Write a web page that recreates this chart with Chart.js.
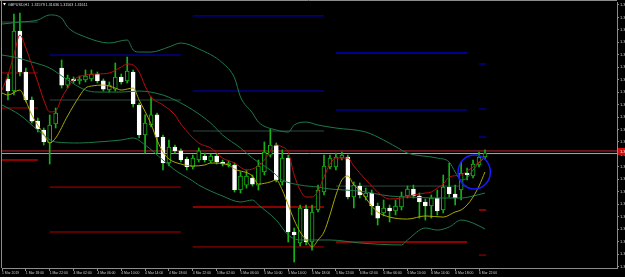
<!DOCTYPE html>
<html>
<head>
<meta charset="utf-8">
<script src="https://cdn.jsdelivr.net/npm/chart.js"></script>
<style>
  html, body { margin: 0; padding: 0; background: #000; overflow: hidden; }
  #wrap { width: 625px; height: 277px; }
</style>
</head>
<body>
<div id="wrap"><canvas id="chart" width="625" height="277"></canvas></div>
<script>
// GBPUSD H1 candles, bar 0 = first visible candle
const symbol = 'GBPUSD,H1';
const opens = [
  1.32206,1.32109,1.32591,1.32262,1.32037,1.31868,1.31796,1.31692,1.31844,1.32294,
  1.32157,1.32206,1.32190,1.32198,1.32206,1.32246,1.32190,1.32117,1.32125,1.32222,
  1.32190,1.32262,1.31997,1.31756,1.31836,1.31917,1.31740,1.31531,1.31660,1.31628,
  1.31563,1.31499,1.31555,1.31587,1.31547,1.31587,1.31539,1.31515,1.31515,1.31314,
  1.31354,1.31411,1.31354,1.31459,1.31595,1.31676,1.31379,1.31571,1.30977,1.30889,
  1.31162,1.30897,1.31154,1.31298,1.31499,1.31499,1.31571,1.31579,1.31258,1.31346,
  1.31258,1.31290,1.31186,1.31130,1.31170,1.31146,1.31178,1.31266,1.31322,1.31266,
  1.31218,1.31186,1.31250,1.31154,1.31338,1.31282,1.31314,1.31451,1.31427,1.31515,
  1.31579];
const highs = [
  1.32246,1.32728,1.32736,1.32294,1.32061,1.31892,1.31812,1.31917,1.31973,1.32358,
  1.32238,1.32222,1.32230,1.32278,1.32278,1.32262,1.32206,1.32182,1.32334,1.32246,
  1.32382,1.32278,1.32013,1.31917,1.32061,1.31933,1.31756,1.31716,1.31676,1.31644,
  1.31579,1.31595,1.31652,1.31611,1.31603,1.31603,1.31555,1.31547,1.31531,1.31459,
  1.31475,1.31435,1.31555,1.31700,1.31804,1.31692,1.31636,1.31595,1.31009,1.31194,
  1.31194,1.31194,1.31354,1.31595,1.31595,1.31611,1.31619,1.31595,1.31379,1.31371,
  1.31330,1.31314,1.31210,1.31234,1.31194,1.31234,1.31298,1.31346,1.31354,1.31290,
  1.31242,1.31274,1.31314,1.31435,1.31531,1.31354,1.31539,1.31491,1.31555,1.31619,
  1.31636];
const lows = [
  1.32037,1.32077,1.32230,1.32021,1.31852,1.31780,1.31676,1.31523,1.31812,1.32133,
  1.32133,1.32174,1.32165,1.32182,1.32190,1.32174,1.32109,1.32101,1.32109,1.32165,
  1.32174,1.31981,1.31732,1.31611,1.31820,1.31611,1.31475,1.31507,1.31611,1.31539,
  1.31475,1.31483,1.31539,1.31539,1.31531,1.31523,1.31507,1.31499,1.31298,1.31290,
  1.31330,1.31346,1.31314,1.31435,1.31579,1.31379,1.31354,1.30897,1.30736,1.30865,
  1.30873,1.30832,1.31138,1.31274,1.31483,1.31475,1.31555,1.31242,1.31170,1.31250,
  1.31234,1.31114,1.31033,1.31106,1.31057,1.31114,1.31154,1.31250,1.31250,1.31089,
  1.31073,1.31089,1.31114,1.31130,1.31258,1.31194,1.31234,1.31395,1.31411,1.31499,
  1.31563];
const closes = [
  1.32109,1.32591,1.32262,1.32037,1.31868,1.31804,1.31700,1.31836,1.31933,1.32157,
  1.32214,1.32190,1.32206,1.32230,1.32246,1.32190,1.32125,1.32157,1.32222,1.32182,
  1.32270,1.32005,1.31756,1.31852,1.31917,1.31740,1.31531,1.31660,1.31628,1.31555,
  1.31499,1.31571,1.31628,1.31555,1.31587,1.31539,1.31523,1.31531,1.31314,1.31427,
  1.31427,1.31362,1.31507,1.31619,1.31676,1.31395,1.31571,1.30977,1.30953,1.31170,
  1.30897,1.31138,1.31314,1.31507,1.31571,1.31579,1.31595,1.31258,1.31354,1.31274,
  1.31290,1.31186,1.31089,1.31170,1.31146,1.31186,1.31266,1.31322,1.31266,1.31218,
  1.31186,1.31250,1.31146,1.31338,1.31282,1.31250,1.31451,1.31435,1.31523,1.31579,
  1.31611];

// indicator lines, read at selected bars
const redMaBars = [-1,0,1,2,3,4,5,6,7,8,9,10,11,13,15,17,19,20,21,22,23,24,26,28,29,32,34,36,38,40,
  42,43,45,46,47,48,49,50,51,52,53,54,55,57,58,59,61,62,64,66,68,70,71,72,73,74,76,77,78,79,80];
const redMaValues = [1.32117,1.32238,1.32398,1.32559,1.32455,1.32318,1.32182,1.32037,1.31941,1.31949,
  1.32053,1.32133,1.32198,1.32238,1.32246,1.32254,1.32302,1.32326,1.32318,1.32262,
  1.32149,1.32061,1.31997,1.31917,1.31844,1.31692,1.31652,1.31571,1.31531,1.31475,
  1.31507,1.31555,1.31676,1.31660,1.31619,1.31435,1.31314,1.31258,1.31258,1.31306,
  1.31419,1.31523,1.31571,1.31571,1.31507,1.31451,1.31346,1.31298,1.31242,1.31250,
  1.31274,1.31290,1.31298,1.31330,1.31362,1.31419,1.31435,1.31467,1.31499,1.31539,1.31579];

const yellowBars = [-1,0,2,3,4,6,7,8,10,12,13,14,16,18,19,21,22,24,25,26,27,29,31,33,34,37,38,41,42,44,
  45,46,47,48,49,50,51,52,53,54,55,56,57,58,59,60,61,62,64,67,70,73,75,76,77,78,79,80];
const yellowValues = [1.32093,1.32077,1.32117,1.32029,1.31917,1.31764,1.31692,1.31732,1.31909,1.32069,
  1.32133,1.32149,1.32157,1.32133,1.32117,1.32133,1.32037,1.31844,1.31716,1.31619,
  1.31563,1.31523,1.31507,1.31515,1.31531,1.31515,1.31483,1.31427,1.31362,1.31379,
  1.31395,1.31314,1.31194,1.31073,1.30977,1.30913,1.30857,1.30913,1.30977,1.31114,
  1.31274,1.31395,1.31427,1.31354,1.31314,1.31250,1.31186,1.31138,1.31097,1.31081,
  1.31106,1.31097,1.31138,1.31154,1.31194,1.31258,1.31346,1.31459];

const upperBars = [-1,2,5,7,9,10,13,17,20,21,22,24,27,29,32,36,38,39,41,42,45,47,48,50,52,55,60,63,66,67,
  72,74,75,76,77,78,79,80];
const upperValues = [1.32647,1.32663,1.32679,1.32720,1.32695,1.32623,1.32543,1.32495,1.32519,1.32439,
  1.32422,1.32422,1.32463,1.32495,1.32447,1.32334,1.32214,1.32061,1.31933,1.31860,
  1.31796,1.31780,1.31836,1.31860,1.31836,1.31812,1.31780,1.31716,1.31636,1.31611,
  1.31571,1.31539,1.31459,1.31395,1.31411,1.31475,1.31531,1.31579];

const middleBars = [-1,1,4,7,10,13,15,19,22,26,28,31,34,36,39,41,44,46,49,52,54,59,64,67,72,76,78,80];
const middleValues = [1.32398,1.32382,1.32342,1.32294,1.32198,1.32117,1.32101,1.32101,1.32109,1.32077,
  1.32037,1.31957,1.31852,1.31756,1.31652,1.31571,1.31475,1.31395,1.31354,1.31338,
  1.31322,1.31306,1.31266,1.31258,1.31250,1.31250,1.31266,1.31290];

const lowerBars = [-1,2,5,8,12,15,19,21,23,26,28,31,32,36,39,41,42,45,47,49,54,59,66,67,70,72,74,76,78,80];
const lowerValues = [1.31997,1.31917,1.31796,1.31700,1.31692,1.31700,1.31716,1.31732,1.31676,1.31555,
  1.31475,1.31387,1.31354,1.31266,1.31218,1.31234,1.31194,1.31073,1.30953,1.30913,
  1.30913,1.30889,1.30873,1.30913,1.31009,1.30993,1.31017,1.31073,1.31049,1.31001];

// daily levels: first bar, last bar, price, kind
const levelFrom  = [-1,-1,-1,-1, 7,7,7,7, 31,31,31,31,31, 55,55,55,55, 79,79,79,79,79];
const levelTo    = [5,5,5,5, 29,29,29,29, 53,53,53,53,53, 77,77,77,77, 80.2,80.2,80.2,80.2,80.2];
const levelPrice = [1.32663,1.32254,1.31973,1.31555, 1.32398,1.32037,1.31338,1.30977,
  1.32712,1.32109,1.31788,1.31178,1.30857, 1.32414,1.31957,1.31346,1.30897,
  1.32326,1.31965,1.31740,1.31154,1.30792];
const levelKind  = ['pivot','sup','sup','supMajor', 'res','pivot','sup','sup',
  'res','res','pivot','supMajor','sup', 'resMajor','res','pivot','supMajor',
  'res','res','res','supMajor','sup'];

const bidPrice = 1.31607;
const askPrice = 1.31628;

// hand-drawn ellipse around the last candles
const circleBar = 78.2, circlePrice = 1.31459, circleBarRadius = 2.7, circlePriceRadius = 0.00137;

const timeLabels = ['1 Mar 2019','1 Mar 18:00','1 Mar 22:00','4 Mar 02:00','4 Mar 06:00','4 Mar 10:00',
  '4 Mar 14:00','4 Mar 18:00','4 Mar 22:00','5 Mar 02:00','5 Mar 06:00','5 Mar 10:00','5 Mar 14:00',
  '5 Mar 18:00','5 Mar 22:00','6 Mar 02:00','6 Mar 06:00','6 Mar 10:00','6 Mar 14:00','6 Mar 18:00','6 Mar 22:00'];
const priceTicks = [1.3280,1.3270,1.3260,1.3250,1.3240,1.3230,1.3220,1.3210,1.3200,1.3190,1.3180,
  1.3170,1.3160,1.3150,1.3140,1.3130,1.3120,1.3110,1.3100,1.3090,1.3080,1.3070];

const xMin = -1, xMax = 102.14;
const yMin = 1.30688, yMax = 1.32824;

const GREEN = '#14b414';
const BAND = '#1d7a48';
const levelStyle = {
  res:      { color: '#0000d0', width: 1 },
  resMajor: { color: '#000090', width: 2 },
  pivot:    { color: '#2a4a44', width: 1 },
  sup:      { color: '#b00000', width: 1 },
  supMajor: { color: '#8b0000', width: 2 }
};

const idx = opens.map((_, i) => i);
const isBull = i => closes[i] >= opens[i];
const pts = (bs, vs) => bs.map((b, k) => ({ x: b, y: vs[k] }));

function lineSet(data, color, order) {
  return {
    type: 'line', data: data, borderColor: color, borderWidth: 1,
    pointRadius: 0, cubicInterpolationMode: 'monotone', order: order
  };
}

const datasets = [];

// levels behind everything
levelPrice.forEach((p, k) => {
  const st = levelStyle[levelKind[k]];
  datasets.push({
    type: 'line', data: [{ x: levelFrom[k], y: p }, { x: levelTo[k], y: p }],
    borderColor: st.color, borderWidth: st.width, pointRadius: 0, order: 6
  });
});
datasets.push({ type: 'line', data: [{ x: xMin, y: askPrice }, { x: xMax, y: askPrice }],
  borderColor: '#b82830', borderWidth: 1, pointRadius: 0, order: 5 });
datasets.push({ type: 'line', data: [{ x: xMin, y: bidPrice }, { x: xMax, y: bidPrice }],
  borderColor: '#a8a8a8', borderWidth: 1, pointRadius: 0, order: 5 });

// wicks and bodies
datasets.push({
  type: 'bar', data: idx.map(i => ({ x: i, y: [lows[i], highs[i]] })),
  backgroundColor: GREEN, borderWidth: 0, barThickness: 1, grouped: false, order: 3
});
datasets.push({
  type: 'bar', data: idx.map(i => ({ x: i, y: [opens[i], closes[i]] })),
  backgroundColor: idx.map(i => isBull(i) ? '#000000' : '#ffffff'),
  borderColor: idx.map(i => isBull(i) ? GREEN : '#ffffff'),
  borderWidth: 1, borderSkipped: false, barThickness: 4, grouped: false, order: 2
});

// indicators on top
datasets.push(lineSet(pts(upperBars, upperValues), BAND, 1));
datasets.push(lineSet(pts(middleBars, middleValues), BAND, 1));
datasets.push(lineSet(pts(lowerBars, lowerValues), BAND, 1));
datasets.push(lineSet(pts(yellowBars, yellowValues), '#a8a800', 0));
datasets.push(lineSet(pts(redMaBars, redMaValues), '#b80e0e', 0));

const terminalLook = {
  id: 'terminalLook',
  beforeDraw(chart) {
    const c = chart.ctx;
    c.save();
    c.fillStyle = '#000';
    c.fillRect(0, 0, chart.width, chart.height);
    c.restore();
  },
  afterDatasetsDraw(chart) {
    const c = chart.ctx, x = chart.scales.x, y = chart.scales.y;
    const cx = x.getPixelForValue(circleBar), cy = y.getPixelForValue(circlePrice);
    const rx = Math.abs(x.getPixelForValue(circleBar + circleBarRadius) - cx);
    const ry = Math.abs(y.getPixelForValue(circlePrice + circlePriceRadius) - cy);
    c.save();
    c.strokeStyle = '#1a1aff';
    c.lineWidth = 1.5;
    c.beginPath();
    c.ellipse(cx, cy, rx, ry, 0, 0, Math.PI * 2);
    c.stroke();
    c.restore();
  },
  afterDraw(chart) {
    const c = chart.ctx, a = chart.chartArea, y = chart.scales.y;
    c.save();
    c.strokeStyle = '#8c8c8c';
    c.lineWidth = 1;
    c.beginPath();
    c.moveTo(0, 0.5); c.lineTo(a.right, 0.5);
    c.moveTo(1.5, 0); c.lineTo(1.5, a.bottom);
    c.stroke();
    // title
    c.fillStyle = '#ffffff';
    c.beginPath();
    c.moveTo(3, 3); c.lineTo(6, 3); c.lineTo(4.5, 5.5); c.closePath();
    c.fill();
    const n = closes.length - 1;
    const title = symbol + '  ' + [opens[n], highs[n], lows[n], closes[n]].map(v => v.toFixed(5)).join(' ');
    c.fillStyle = '#dcdcdc';
    c.font = '3.7px "Liberation Sans", sans-serif';
    c.textBaseline = 'middle';
    c.fillText(title, 8, 4.5);
    // ask tag on the price axis
    const py = y.getPixelForValue(askPrice);
    c.fillStyle = '#d01010';
    c.fillRect(a.right + 1, py - 3, 8, 7);
    c.fillStyle = '#ffffff';
    c.font = '4px "Liberation Sans", sans-serif';
    c.fillText(askPrice.toFixed(5), a.right + 3, py + 0.5);
    c.restore();
  }
};

new Chart(document.getElementById('chart'), {
  data: { datasets: datasets },
  options: {
    responsive: false,
    animation: false,
    devicePixelRatio: 1,
    layout: { autoPadding: false, padding: { left: 2, top: 2, right: 0, bottom: 0 } },
    plugins: { legend: { display: false }, tooltip: { enabled: false } },
    scales: {
      x: {
        type: 'linear', position: 'bottom', min: xMin, max: xMax, offset: false,
        afterFit: s => { s.height = 9; s.paddingLeft = 0; s.paddingRight = 0; },
        afterBuildTicks: s => { s.ticks = timeLabels.map((_, k) => ({ value: 4 * k - 1 })); },
        ticks: {
          autoSkip: false, maxRotation: 0, minRotation: 0, align: 'start', padding: 0,
          color: '#d0d0d0', font: { size: 3.4, family: '"Liberation Sans", sans-serif' },
          callback: (v, i) => timeLabels[i]
        },
        grid: { offset: false, drawOnChartArea: false, drawTicks: true, tickLength: 3, color: '#8c8c8c' },
        border: { color: '#8c8c8c', width: 1 }
      },
      y: {
        type: 'linear', position: 'right', min: yMin, max: yMax, beginAtZero: false,
        afterFit: s => { s.width = 8; s.paddingTop = 0; s.paddingBottom = 0; },
        afterBuildTicks: s => { s.ticks = priceTicks.map(v => ({ value: v })); },
        ticks: {
          padding: 1, color: '#d0d0d0', font: { size: 4, family: '"Liberation Sans", sans-serif' },
          callback: v => v.toFixed(5)
        },
        grid: { drawOnChartArea: false, drawTicks: true, tickLength: 2, color: '#8c8c8c' },
        border: { color: '#8c8c8c', width: 1 }
      }
    }
  },
  plugins: [terminalLook]
});
</script>
</body>
</html>
